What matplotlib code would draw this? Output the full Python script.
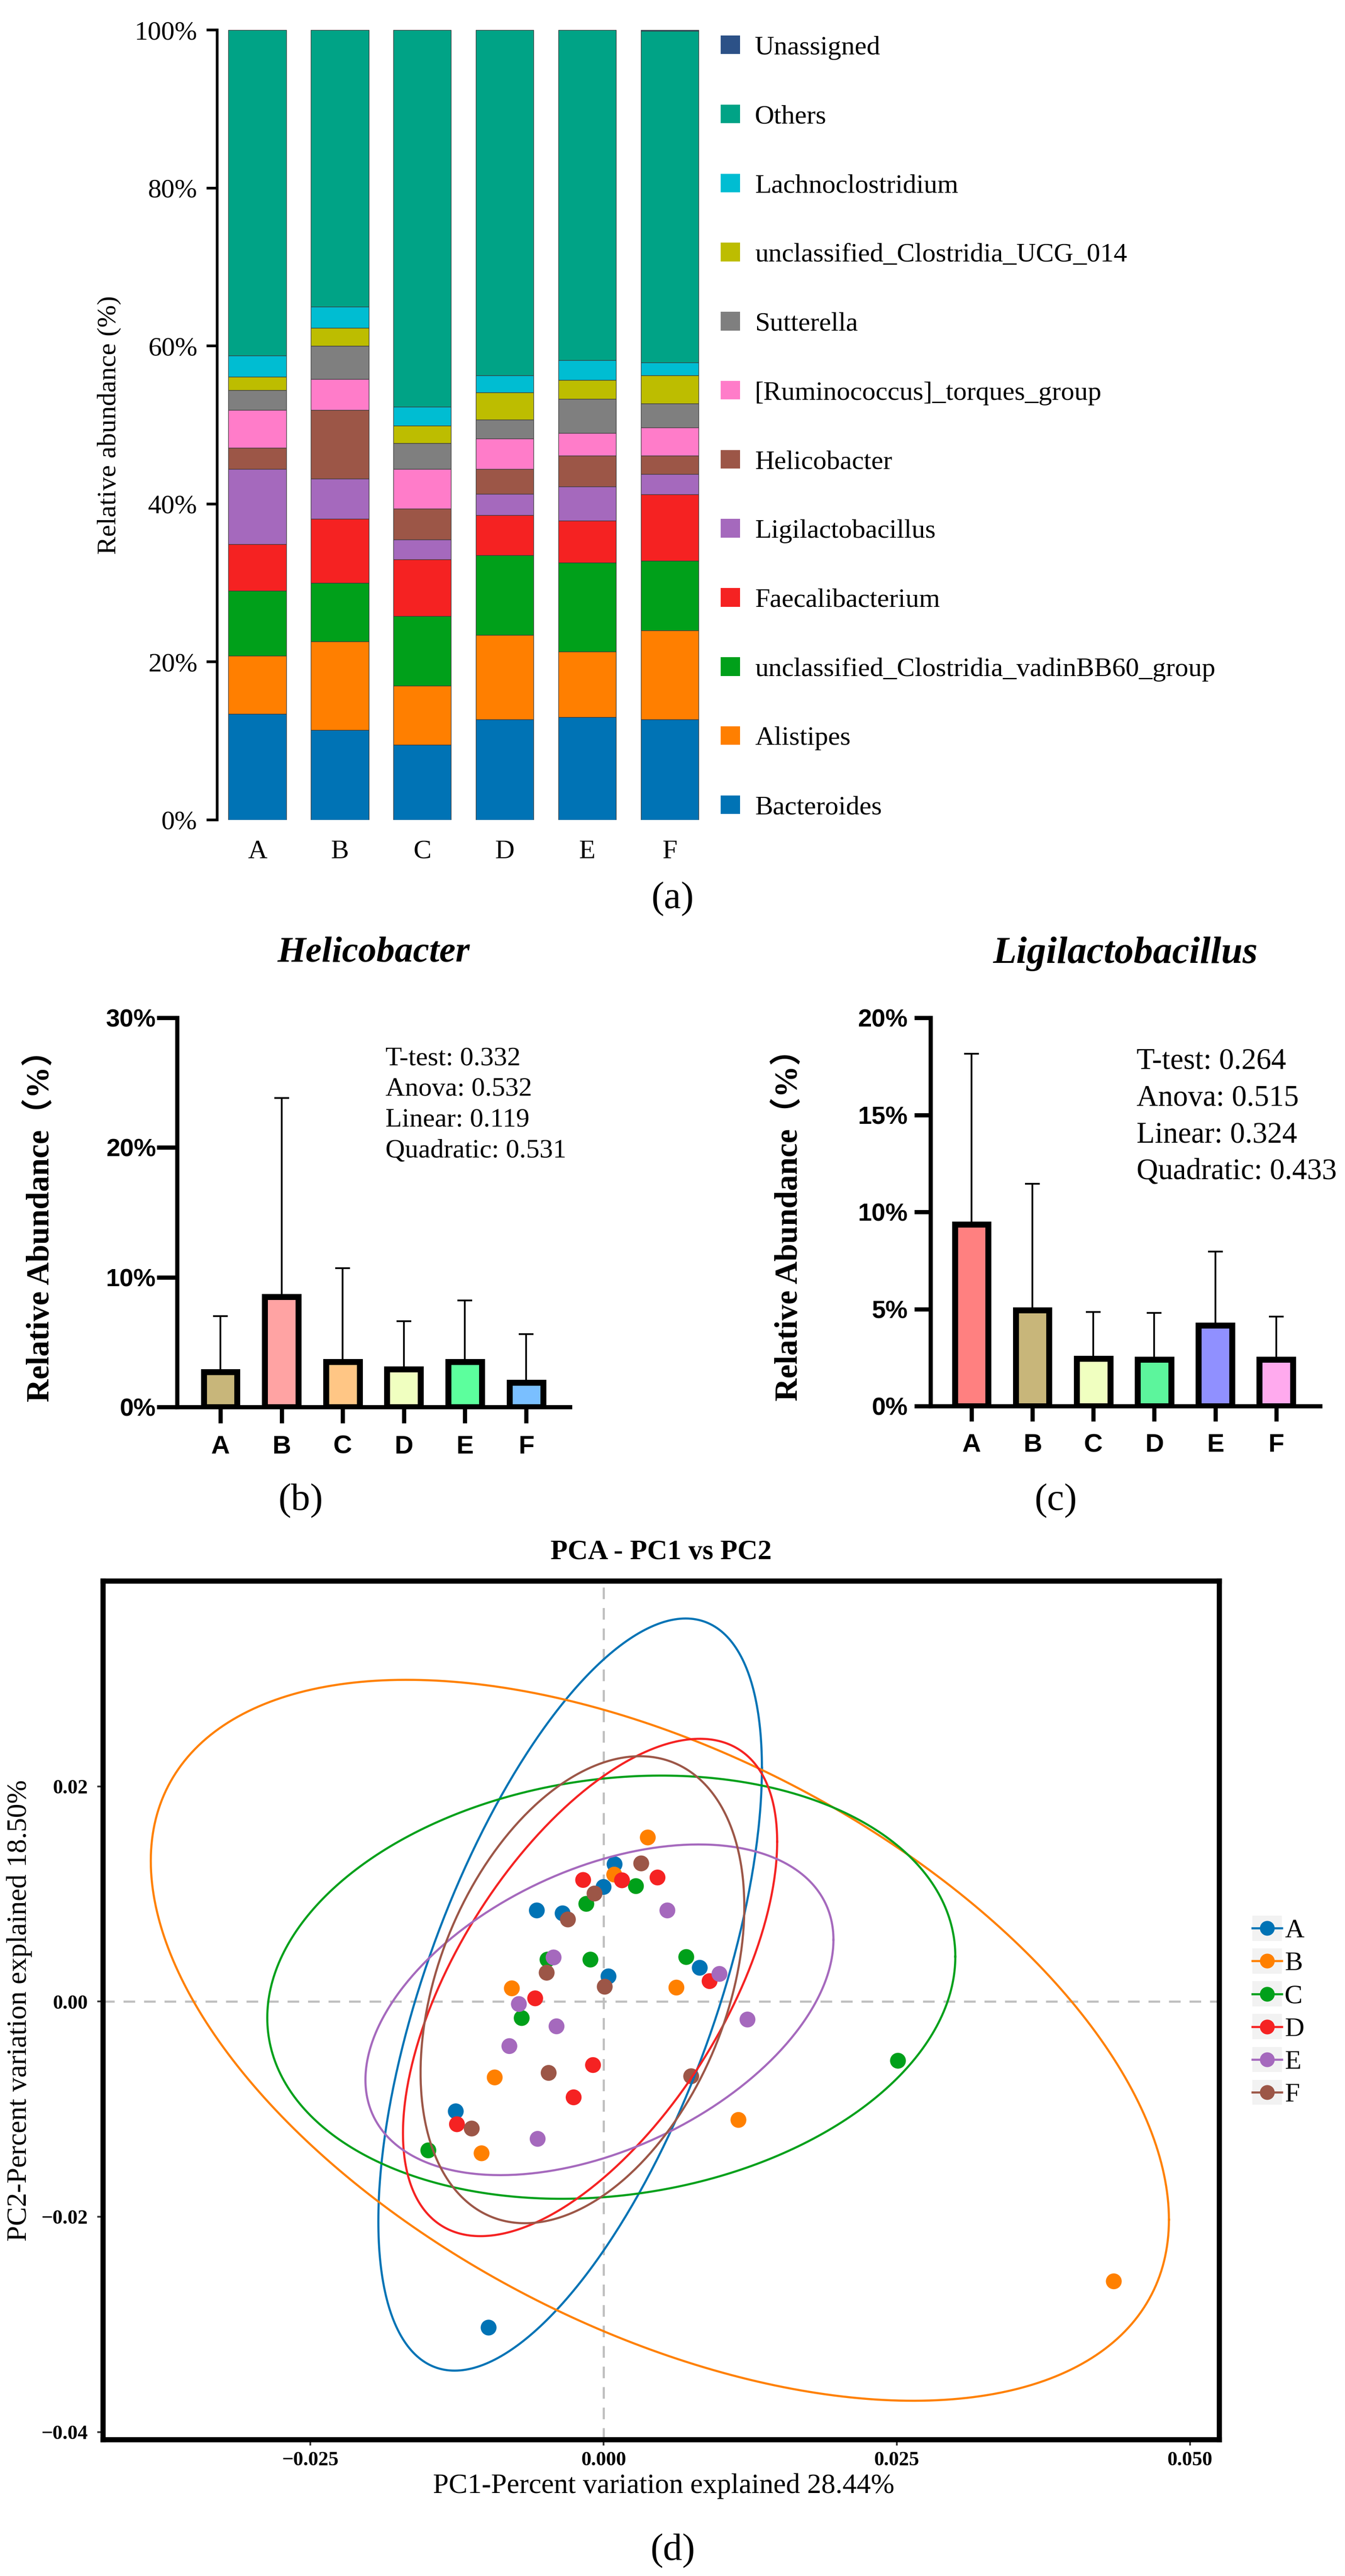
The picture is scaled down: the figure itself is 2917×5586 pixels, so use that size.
import numpy as np
import matplotlib
matplotlib.use('Agg')
import matplotlib.pyplot as plt
from matplotlib.patches import Rectangle, Patch
from matplotlib.lines import Line2D
from matplotlib.legend_handler import HandlerBase
from matplotlib.ticker import FuncFormatter

plt.rcParams['font.family'] = ['Liberation Serif', 'DejaVu Serif']

# ---------------- data ----------------
groups = ['A', 'B', 'C', 'D', 'E', 'F']

# (a) stacked relative abundance (%)
genera = ['Bacteroides', 'Alistipes', 'unclassified_Clostridia_vadinBB60_group',
          'Faecalibacterium', 'Ligilactobacillus', 'Helicobacter',
          '[Ruminococcus]_torques_group', 'Sutterella',
          'unclassified_Clostridia_UCG_014', 'Lachnoclostridium', 'Others', 'Unassigned']
bacteroides = [13.4, 11.4, 9.5, 12.7, 13.0, 12.7]
alistipes = [7.4, 11.2, 7.5, 10.7, 8.3, 11.3]
vadinbb60 = [8.2, 7.4, 8.8, 10.1, 11.3, 8.8]
faecalibacterium = [5.9, 8.1, 7.2, 5.1, 5.3, 8.4]
ligilactobacillus = [9.5, 5.1, 2.5, 2.7, 4.3, 2.6]
helicobacter = [2.7, 8.7, 3.9, 3.1, 3.9, 2.3]
ruminococcus = [4.8, 3.9, 5.0, 3.9, 2.9, 3.6]
sutterella = [2.5, 4.2, 3.3, 2.4, 4.3, 3.0]
ucg014 = [1.7, 2.3, 2.2, 3.4, 2.4, 3.6]
lachnoclostridium = [2.7, 2.7, 2.4, 2.2, 2.5, 1.6]
others = [41.2, 35.0, 47.7, 43.7, 41.8, 42.0]
unassigned = [0.0, 0.0, 0.0, 0.0, 0.0, 0.1]
genus_colors = ['#0073B5', '#FF7F00', '#00A01A', '#F52222', '#A569BD', '#9C5647',
                '#FF7CC9', '#7F7F7F', '#BDBD00', '#00BDD2', '#00A386', '#2C5187']

# (b) Helicobacter mean and SD (%)
heli_mean = [2.7, 8.5, 3.5, 2.9, 3.5, 1.9]
heli_sd = [4.3, 15.3, 7.2, 3.7, 4.7, 3.7]
heli_colors = ['#C8B67A', '#FFA3A3', '#FFC685', '#F0FFC0', '#5CFF9D', '#7ABFFF']
heli_stats = ['T-test: 0.332', 'Anova: 0.532', 'Linear: 0.119', 'Quadratic: 0.531']

# (c) Ligilactobacillus mean and SD (%)
ligi_mean = [9.35, 4.95, 2.45, 2.4, 4.15, 2.4]
ligi_sd = [8.8, 6.5, 2.4, 2.4, 3.8, 2.2]
ligi_colors = ['#FF8080', '#C8B67A', '#F0FFC0', '#5CF59C', '#9090FF', '#FFAAEE']
ligi_stats = ['T-test: 0.264', 'Anova: 0.515', 'Linear: 0.324', 'Quadratic: 0.433']

# (d) PCA scores
pc1_A = [0.00094, 0.0000, -0.00569, -0.00349, 0.00042, 0.0082, -0.0126, -0.0098]
pc2_A = [0.01276, 0.01065, 0.00847, 0.0082, 0.00234, 0.00314, -0.0102, -0.0303]
pc1_B = [0.00377, 0.00091, -0.00782, -0.00928, -0.0104, 0.00621, 0.0115, 0.0435]
pc2_B = [0.01525, 0.0118, 0.00123, -0.00705, -0.0141, 0.0013, -0.0110, -0.0260]
pc1_C = [0.00276, -0.00147, -0.00478, -0.00112, -0.00698, -0.01494, 0.00705, 0.0251]
pc2_C = [0.01073, 0.00908, 0.0039, 0.0039, -0.00153, -0.01383, 0.00414, -0.0055]
pc1_D = [-0.00174, 0.00157, 0.0046, -0.00583, -0.0009, -0.00255, -0.0125, 0.00904]
pc2_D = [0.0113, 0.01127, 0.01153, 0.0003, -0.0059, -0.0089, -0.0114, 0.0019]
pc1_E = [0.00544, -0.00426, -0.00722, -0.00401, -0.00803, -0.00562, 0.00988, 0.01227]
pc2_E = [0.00847, 0.0041, -0.00023, -0.0023, -0.00414, -0.01276, 0.00257, -0.00167]
pc1_F = [0.00321, -0.00077, -0.00304, -0.00485, 0.0001, -0.00468, -0.01124, 0.00747]
pc2_F = [0.01284, 0.01004, 0.00763, 0.00268, 0.00138, -0.00663, -0.0118, -0.00694]
pca_colors = ['#0073B5', '#FF8000', '#00A01A', '#F52222', '#A569BD', '#9C5647']
# 95% ellipses: x min, x max, y min, y max, x at the top of the ellipse
ell_xmin = [-0.0192, -0.0386, -0.02867, -0.0171, -0.0203, -0.0156]
ell_xmax = [0.0135, 0.0482, 0.02999, 0.0148, 0.0196, 0.0120]
ell_ymin = [-0.0343, -0.0371, -0.01833, -0.0218, -0.01613, -0.0206]
ell_ymax = [0.0356, 0.0299, 0.0210, 0.02442, 0.0146, 0.0228]
ell_xtop = [0.0070, -0.0168, 0.0049, 0.0082, 0.0081, 0.0031]

# ---------------- layout helpers ----------------
W, H = 2917, 5586
DPI = 300
fig = plt.figure(figsize=(W / DPI, H / DPI), dpi=DPI)


def rect(l, t, r, b):
    return [l / W, 1 - b / H, (r - l) / W, (b - t) / H]


def fx(p):
    return p / W


def fy(p):
    return 1 - p / H


SANS = ['Liberation Sans', 'DejaVu Sans']
SERIF = ['Liberation Serif', 'DejaVu Serif']

# ---------------- (a) ----------------
ax_a = fig.add_axes(rect(471, 65, 1517, 1778))
series = [bacteroides, alistipes, vadinbb60, faecalibacterium, ligilactobacillus,
          helicobacter, ruminococcus, sutterella, ucg014, lachnoclostridium,
          others, unassigned]
xa = np.arange(len(groups))
bottom = np.zeros(len(groups))
handles = []
for name, vals, col in zip(genera, series, genus_colors):
    ax_a.bar(xa, vals, bottom=bottom, width=0.70, color=col,
             edgecolor='#3a3a3a', linewidth=0.3, label=name)
    bottom += np.array(vals)
    handles.append(Patch(facecolor=col, edgecolor='none', label=name))
ax_a.set_xlim(-0.486, 5.36)
ax_a.set_ylim(0, 100)
ax_a.set_yticks([0, 20, 40, 60, 80, 100])
ax_a.set_yticklabels(['0%', '20%', '40%', '60%', '80%', '100%'], fontsize=14)
ax_a.set_xticks(xa)
ax_a.set_xticklabels(groups, fontsize=14)
for s in ['top', 'right', 'bottom']:
    ax_a.spines[s].set_visible(False)
ax_a.spines['left'].set_linewidth(1.4)
ax_a.tick_params(axis='y', length=5.5, width=1.4, pad=4.8)
ax_a.tick_params(axis='x', length=0, pad=10.3)
ax_a.set_ylabel('Relative abundance (%)', fontsize=14, va='center')
ax_a.yaxis.set_label_coords(-0.2237, 0.5)
leg_a = ax_a.legend(handles=handles[::-1], loc='upper left',
                    bbox_to_anchor=(fx(1563), fy(77)), bbox_transform=fig.transFigure,
                    frameon=False, borderpad=0, borderaxespad=0,
                    handlelength=0.72, handleheight=0.69, handletextpad=0.55,
                    labelspacing=1.665, prop={'family': SERIF, 'size': 14})

fig.text(fx(1459), fy(1950), '(a)', ha='center', va='center', fontsize=20)


# ---------------- (b) and (c) ----------------
def bar_panel(r, xlim, ymax, yticks, means, sds, colors, title, stats, stat_x, stat_ys,
              stat_fs, ylab_xy, title_y, title_fs, ytick_len, ytick_pad, xtick_len):
    ax = fig.add_axes(r)
    xb = np.arange(len(groups))
    ax.bar(xb, means, width=0.55, color=colors, edgecolor='black', linewidth=3.1, zorder=3)
    ax.errorbar(xb, means, yerr=[np.zeros(len(sds)), sds], fmt='none', ecolor='black',
                elinewidth=0.9, capsize=3.8, capthick=0.9, zorder=2)
    ax.set_xlim(*xlim)
    ax.set_ylim(0, ymax)
    ax.set_yticks(yticks)
    ax.set_yticklabels(['%d%%' % t for t in yticks], fontsize=13, fontweight='bold',
                       family=SANS)
    ax.set_xticks(xb)
    ax.set_xticklabels(groups, fontsize=13.5, fontweight='bold', family=SANS)
    for s in ['top', 'right']:
        ax.spines[s].set_visible(False)
    for s in ['left', 'bottom']:
        ax.spines[s].set_linewidth(2.2)
    ax.tick_params(axis='y', length=ytick_len, width=2.2, pad=ytick_pad)
    ax.tick_params(axis='x', length=xtick_len, width=2.2, pad=6.2)
    ax.set_ylabel('Relative Abundance（%）', fontsize=16.5, fontweight='bold',
                  family=['Liberation Serif', 'Noto Sans CJK SC'], va='center')
    ax.yaxis.set_label_coords(*ylab_xy)
    ax.set_title(title, fontsize=title_fs, fontweight='bold', style='italic',
                 y=title_y, va='center', pad=0)
    for txt, yy in zip(stats, stat_ys):
        ax.text(stat_x, yy, txt, transform=ax.transAxes, ha='left', va='center',
                fontsize=stat_fs)
    return ax


ax_b = bar_panel(rect(384, 2207, 1236, 3051), (-0.709, 5.716), 30, [0, 10, 20, 30],
                 heli_mean, heli_sd, heli_colors, 'Helicobacter', heli_stats,
                 0.5305, [0.8957, 0.8164, 0.737, 0.6576], 14, (-0.3474, 0.4846),
                 1.167, 19, 10.5, 0.5, 8.4)
ax_c = bar_panel(rect(2018, 2207, 2863, 3049), (-0.673, 5.72), 20, [0, 5, 10, 15, 20],
                 ligi_mean, ligi_sd, ligi_colors, 'Ligilactobacillus', ligi_stats,
                 0.529, [0.8872, 0.7922, 0.6971, 0.6033], 15.5, (-0.3633, 0.4857),
                 1.165, 20, 8.4, 3.4, 8.0)

fig.text(fx(652), fy(3255), '(b)', ha='center', va='center', fontsize=20)
fig.text(fx(2290), fy(3255), '(c)', ha='center', va='center', fontsize=20)

# ---------------- (d) PCA ----------------
ax_d = fig.add_axes(rect(223, 3428, 2644, 5290))
ax_d.set_xlim(-0.04269, 0.05248)
ax_d.set_ylim(-0.0407, 0.0391)
ax_d.axhline(0, color='#BEBEBE', lw=1.1, ls=(0, (5.5, 4.2)), zorder=1)
ax_d.axvline(0, color='#BEBEBE', lw=1.1, ls=(0, (5.5, 4.2)), zorder=1)

pc1 = [pc1_A, pc1_B, pc1_C, pc1_D, pc1_E, pc1_F]
pc2 = [pc2_A, pc2_B, pc2_C, pc2_D, pc2_E, pc2_F]
for g, xs, ys, col in zip(groups, pc1, pc2, pca_colors):
    ax_d.scatter(xs, ys, s=68, color=col, edgecolors='none', zorder=3, label=g)

t = np.linspace(0, 2 * np.pi, 361)
for i, col in enumerate(pca_colors):
    cx = (ell_xmin[i] + ell_xmax[i]) / 2
    cy = (ell_ymin[i] + ell_ymax[i]) / 2
    sx = (ell_xmax[i] - ell_xmin[i]) / 2
    sy = (ell_ymax[i] - ell_ymin[i]) / 2
    rho = (ell_xtop[i] - cx) / sx
    ex = cx + sx * np.cos(t)
    ey = cy + sy * (rho * np.cos(t) + np.sqrt(1 - rho ** 2) * np.sin(t))
    ax_d.plot(ex, ey, color=col, lw=1.1, zorder=4)

ax_d.set_xticks([-0.025, 0.0, 0.025, 0.05])
ax_d.xaxis.set_major_formatter(FuncFormatter(lambda v, p: ('%.3f' % v).replace('-', '\u2212')))
ax_d.set_yticks([-0.04, -0.02, 0.0, 0.02])
ax_d.yaxis.set_major_formatter(FuncFormatter(lambda v, p: ('%.2f' % v).replace('-', '\u2212')))
for lab in ax_d.get_xticklabels() + ax_d.get_yticklabels():
    lab.set_fontweight('bold')
    lab.set_fontsize(10.5)
ax_d.tick_params(axis='both', length=3, width=0.9, color='#333333', labelsize=10.5)
ax_d.tick_params(axis='x', pad=3)
ax_d.tick_params(axis='y', pad=4.7)
for s in ax_d.spines.values():
    s.set_linewidth(2.7)
ax_d.set_xlabel('PC1-Percent variation explained 28.44%', fontsize=14.7, va='center')
ax_d.xaxis.set_label_coords(0.5025, -0.0542)
ax_d.set_ylabel('PC2-Percent variation explained 18.50%', fontsize=14.7, va='center')
ax_d.yaxis.set_label_coords(-0.0748, 0.4995)
ax_d.set_title('PCA - PC1 vs PC2', fontsize=14.6, fontweight='bold', y=1.0333,
               va='center', pad=0)


class KeyHandler(HandlerBase):
    def create_artists(self, legend, orig_handle, xdescent, ydescent, width, height,
                       fontsize, trans):
        col = orig_handle.get_color()
        bg = Rectangle((-xdescent, -ydescent), width, height, facecolor='#F2F2F2',
                       edgecolor='none', transform=trans)
        ln = Line2D([-xdescent, -xdescent + width], [-ydescent + height / 2] * 2,
                    color=col, lw=1.1, transform=trans)
        mk = Line2D([-xdescent + width / 2], [-ydescent + height / 2], marker='o',
                    markersize=7.7, color=col, markeredgewidth=0, linestyle='none',
                    transform=trans)
        return [bg, ln, mk]


pca_handles = [Line2D([0], [0], color=c, label=g) for g, c in zip(groups, pca_colors)]
ax_d.legend(handles=pca_handles, loc='upper left', bbox_to_anchor=(fx(2716), fy(4154)),
            bbox_transform=fig.transFigure, frameon=False, borderpad=0,
            borderaxespad=0, handlelength=1.1, handleheight=1.063, handletextpad=0.1,
            labelspacing=0.205, prop={'family': SERIF, 'size': 14},
            handler_map={Line2D: KeyHandler()})

fig.text(fx(1459), fy(5532), '(d)', ha='center', va='center', fontsize=20)

fig.savefig('out.png', dpi=DPI)
